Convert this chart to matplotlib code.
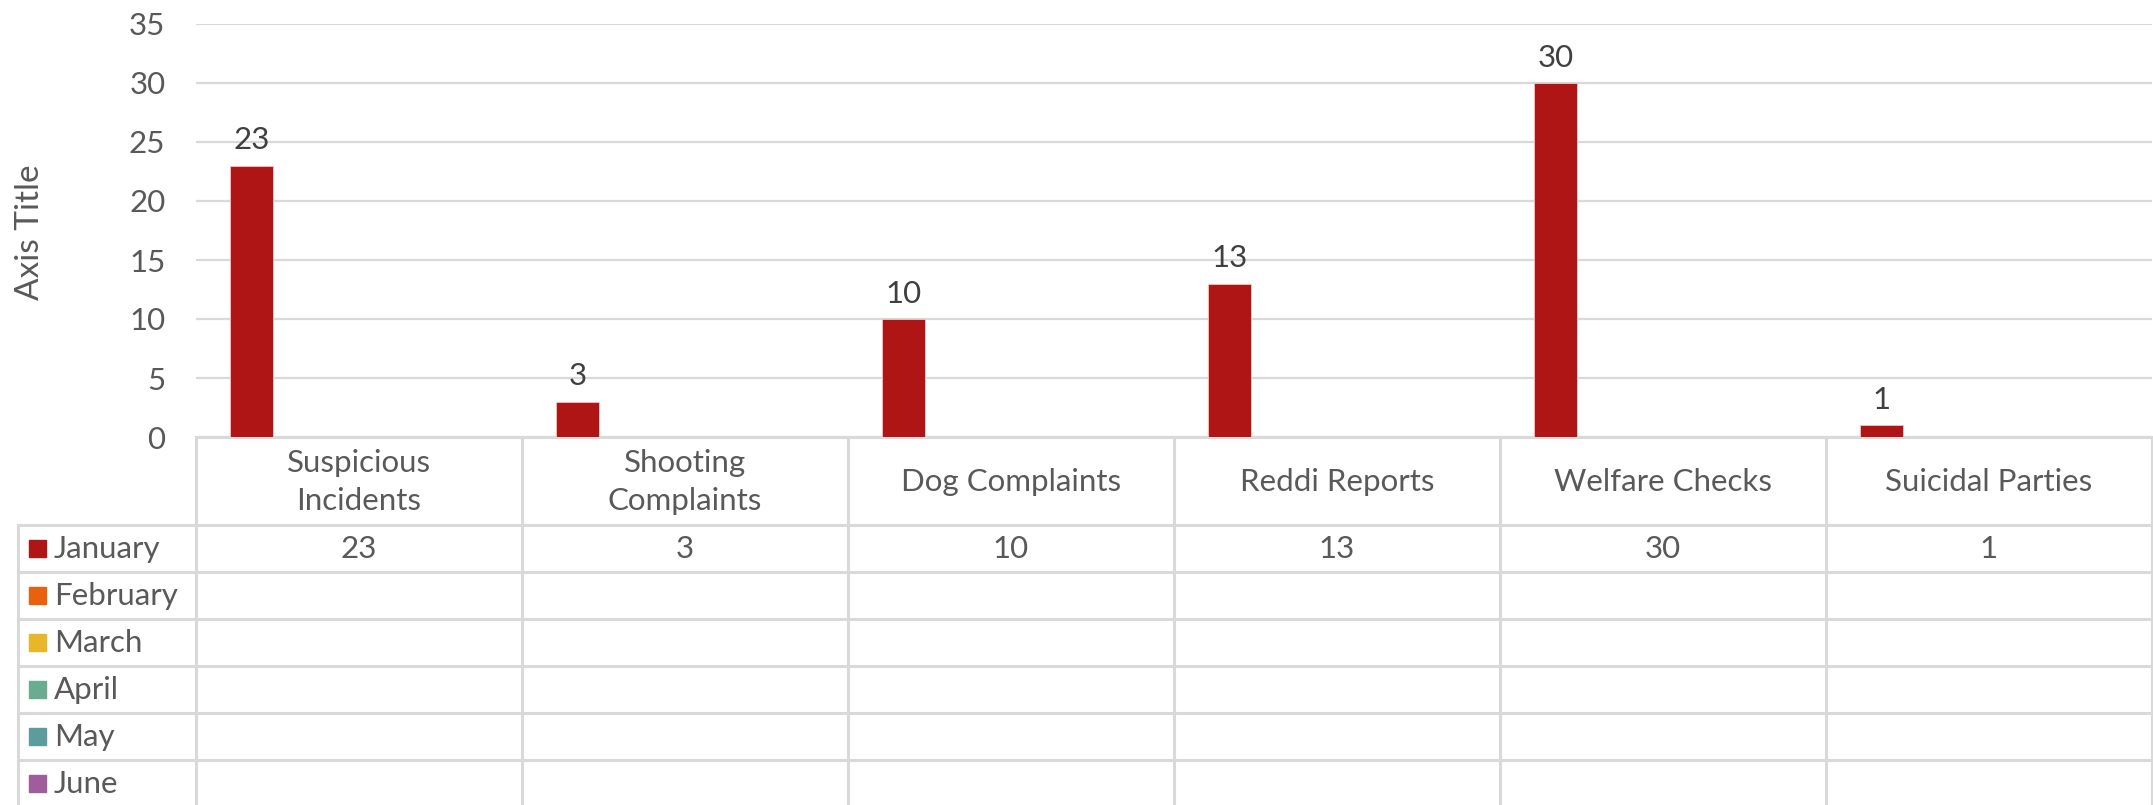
# bar chart with data table underneath (Excel style)

import textwrap
import matplotlib
matplotlib.use('Agg')
import matplotlib.pyplot as plt
import numpy as np

categories = ['Suspicious Incidents', 'Shooting Complaints', 'Dog Complaints',
              'Reddi Reports', 'Welfare Checks', 'Suicidal Parties']
months = ['January', 'February', 'March', 'April', 'May', 'June']
january = [23, 3, 10, 13, 30, 1]
february = [None, None, None, None, None, None]
march = [None, None, None, None, None, None]
april = [None, None, None, None, None, None]
may = [None, None, None, None, None, None]
june = [None, None, None, None, None, None]
series = [january, february, march, april, may, june]
colors = ['#AF1515', '#E8610F', '#E6B729', '#6AAC8F', '#5C9C9C', '#9E5E9B']

plt.rcParams['font.family'] = ['Lato', 'DejaVu Sans']
text_col = '#595959'
grid_col = '#D9D9D9'
fs = 22.5

W, H = 2153, 805
fig = plt.figure(figsize=(W / 100, H / 100), dpi=100)

# plot area in pixel terms
left, right, top, zero = 196, 2152, 24, 437
ax = fig.add_axes([left / W, 1 - zero / H, (right - left) / W, (zero - top) / H])

n = len(categories)
x = np.arange(n)
bw = 0.132
for i, (vals, c) in enumerate(zip(series, colors)):
    v = np.array([np.nan if a is None else a for a in vals], dtype=float)
    off = (i - (len(series) - 1) / 2) * bw
    ax.bar(x + off, v, width=bw, color=c, edgecolor='#E8C8C8', linewidth=0.6, zorder=3)
    for xi, yi in zip(x + off, v):
        if not np.isnan(yi):
            ax.annotate('%d' % yi, (xi, yi), xytext=(0, 8), textcoords='offset points',
                        ha='center', va='bottom', fontsize=fs, color='#404040')

ax.set_xlim(-0.5, n - 0.5)
ax.set_ylim(0, 35)
ax.set_yticks(np.arange(0, 36, 5))
ax.set_xticks([])
ax.yaxis.grid(True, color=grid_col, linewidth=1.6, zorder=0)
ax.tick_params(axis='y', length=0, pad=22, labelsize=fs, labelcolor=text_col)
for s in ax.spines.values():
    s.set_visible(False)

fig.text(30 / W, 1 - 232 / H, 'Axis Title', rotation=90, ha='center', va='center',
         fontsize=24, color=text_col)

# data table drawn in pixel coordinates
tb = fig.add_axes([0, 0, 1, 1], zorder=-1)
tb.set_xlim(0, W)
tb.set_ylim(H, 0)
tb.axis('off')

col_w = (right - left) / n
edges = [left + k * col_w for k in range(n + 1)]
head_bot = 525
row_h = 47
rows = [head_bot + k * row_h for k in range(len(months) + 1)]
leg_left = 18
lw = 2.2

# horizontal lines
tb.plot([left, right], [zero, zero], color=grid_col, lw=lw)
for yy in rows:
    tb.plot([leg_left, right], [yy, yy], color=grid_col, lw=lw)
# vertical lines
for xx in edges:
    tb.plot([xx, xx], [zero, H + 5], color=grid_col, lw=lw)
tb.plot([leg_left, leg_left], [head_bot, H + 5], color=grid_col, lw=lw)

# header labels
for k, cat in enumerate(categories):
    tb.text((edges[k] + edges[k + 1]) / 2, (zero + head_bot) / 2 + 1,
            textwrap.fill(cat, 16), ha='center', va='center', fontsize=fs,
            color=text_col, linespacing=1.4)

# legend column and values
for r, (m, vals, c) in enumerate(zip(months, series, colors)):
    yc = (rows[r] + rows[r + 1]) / 2
    tb.add_patch(plt.Rectangle((29, yc - 8.5), 17, 17, color=c))
    tb.text(54, yc, m, ha='left', va='center', fontsize=fs, color=text_col)
    for k, v in enumerate(vals):
        if v is not None:
            tb.text((edges[k] + edges[k + 1]) / 2, yc, '%d' % v, ha='center',
                    va='center', fontsize=fs, color=text_col)

fig.savefig('out.png', dpi=100)
